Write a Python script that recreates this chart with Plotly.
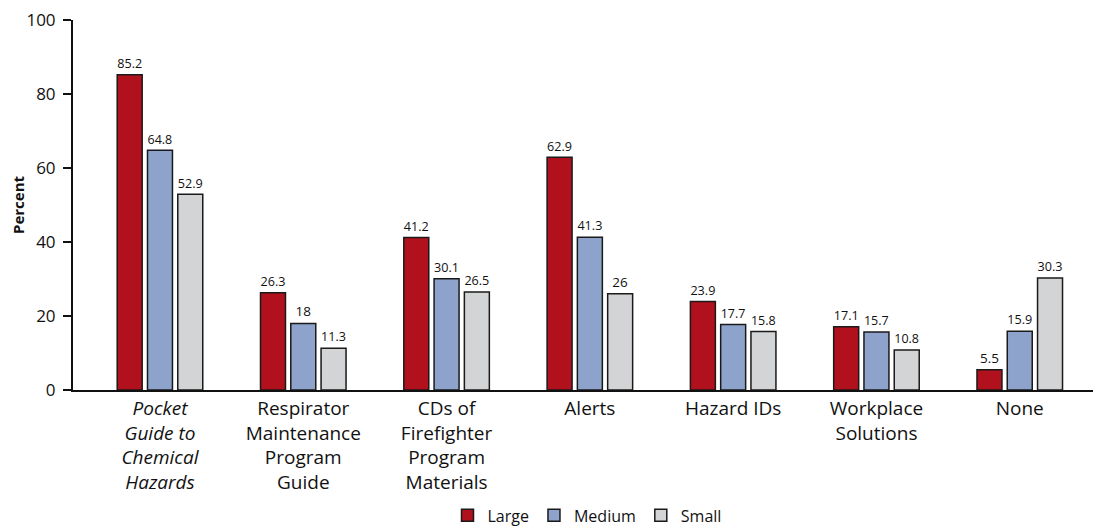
import plotly.graph_objects as go

categories = [
    "<i>Pocket</i><br><i>Guide to</i><br><i>Chemical</i><br><i>Hazards</i>",
    "Respirator<br>Maintenance<br>Program<br>Guide",
    "CDs of<br>Firefighter<br>Program<br>Materials",
    "Alerts",
    "Hazard IDs",
    "Workplace<br>Solutions",
    "None",
]
large = [85.2, 26.3, 41.2, 62.9, 23.9, 17.1, 5.5]
medium = [64.8, 18, 30.1, 41.3, 17.7, 15.7, 15.9]
small = [52.9, 11.3, 26.5, 26, 15.8, 10.8, 30.3]
y_ticks = [0, 20, 40, 60, 80, 100]

FONT = "Open Sans"
series = [("Large", large, "#B0111D"), ("Medium", medium, "#8DA3CB"), ("Small", small, "#D3D4D6")]

fig = go.Figure()
for name, vals, col in series:
    fig.add_trace(go.Bar(
        x=categories, y=vals, name=name,
        marker=dict(color=col, line=dict(color="#1a1a1a", width=1.5)),
        text=[f"{v:g}" for v in vals], textposition="outside",
        textfont=dict(family=FONT, size=13.5, color="#111"),
        cliponaxis=False,
    ))

fig.update_layout(
    width=1093, height=521,
    margin=dict(l=65, r=0, t=12, b=139, autoexpand=False),
    paper_bgcolor="white", plot_bgcolor="white",
    barmode="group", bargap=0.366, bargroupgap=0.175,
    font=dict(family=FONT, color="#111"),
    showlegend=True,
    legend=dict(orientation="h", x=0.5, xanchor="center", y=-0.293, yanchor="top",
                font=dict(family=FONT, size=16), traceorder="normal",
                itemwidth=30),
)
fig.update_xaxes(
    range=[-0.607, 6.567],
    showline=True, linecolor="#111", linewidth=2,
    ticks="", tickfont=dict(family=FONT, size=19, color="#111"),
    showgrid=False, zeroline=False,
)
fig.update_yaxes(
    range=[0, 100], tickvals=y_ticks, ticktext=[str(t) for t in y_ticks],
    showline=True, linecolor="#111", linewidth=2,
    ticks="outside", ticklen=8, tickwidth=2, tickcolor="#111",
    ticklabelstandoff=4, ticklabeloverflow="allow",
    tickfont=dict(family=FONT, size=17, color="#111"),
    showgrid=False, zeroline=False,
    title=dict(text="<b>Percent</b>", font=dict(family=FONT, size=15, color="#111"), standoff=14),
)

fig.write_html("out.html")
